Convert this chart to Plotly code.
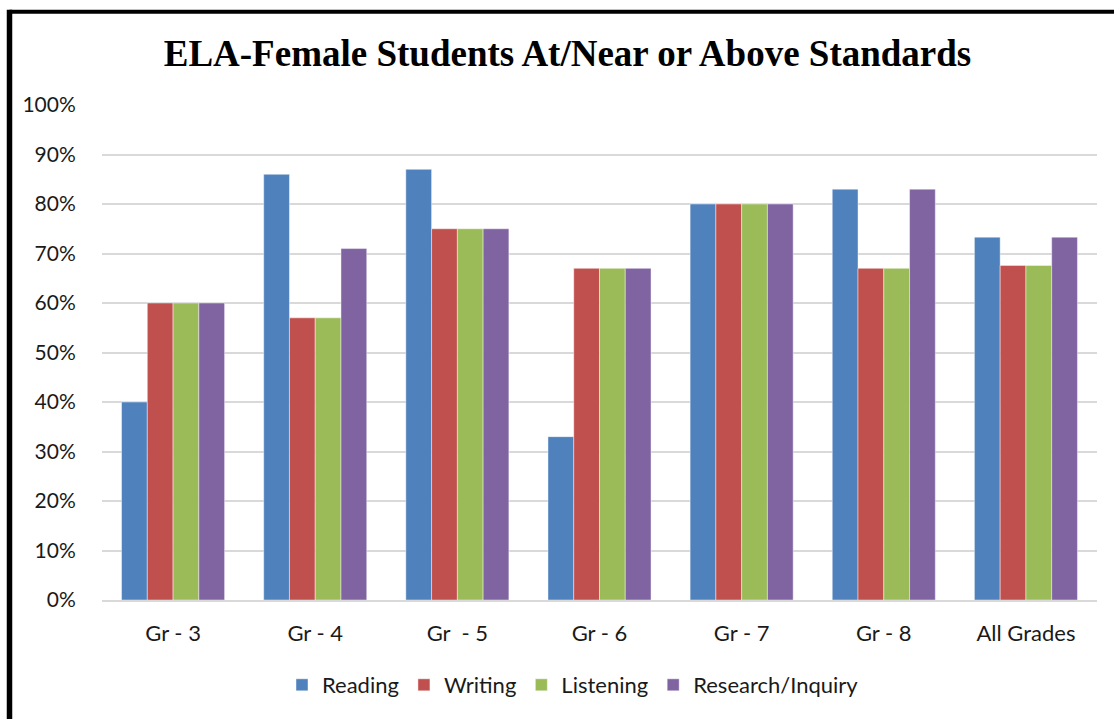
import plotly.graph_objects as go

categories = ["Gr - 3", "Gr - 4", "Gr \u00a0- 5", "Gr - 6", "Gr - 7", "Gr - 8", "All Grades"]
reading = [40, 86, 87, 33, 80, 83, 73.3]
writing = [60, 57, 75, 67, 80, 67, 67.6]
listening = [60, 57, 75, 67, 80, 67, 67.6]
research = [60, 71, 75, 67, 80, 83, 73.3]
series_names = ["Reading", "Writing", "Listening", "Research/Inquiry"]
series_colors = ["#4F81BD", "#C0504D", "#9BBB59", "#8064A2"]
y_ticks = [0, 10, 20, 30, 40, 50, 60, 70, 80, 90, 100]
y_labels = [f"{v}%" for v in y_ticks]

fig = go.Figure()
for name, vals, col in zip(series_names, [reading, writing, listening, research], series_colors):
    fig.add_trace(go.Bar(
        x=categories, y=vals, name=name,
        marker=dict(color=col, line=dict(color="rgba(255,255,255,0.55)", width=0.8)),
    ))

W, H = 1114, 719
L, R, T, B = 102, 17, 105, 119
pw, ph = W - L - R, H - T - B

def px(x):
    return (x - L) / pw

def py(y):
    return (H - B - y) / ph

fig.update_layout(
    width=W, height=H,
    margin=dict(l=L, r=R, t=T, b=B, autoexpand=False),
    paper_bgcolor="white", plot_bgcolor="white",
    barmode="group", bargap=0.275, bargroupgap=0,
    font=dict(family="Lato, Open Sans, sans-serif", size=20, color="#1a1a1a"),
    title=dict(
        text="<b>ELA-Female Students At/Near or Above Standards</b>",
        font=dict(family="Liberation Serif, Times New Roman, serif", size=37, color="black"),
        x=567.5 / W, xanchor="center", xref="container",
        y=1 - 53 / H, yanchor="middle", yref="container",
    ),
    xaxis=dict(
        showgrid=False, showline=True, linecolor="#d9d9d9", linewidth=1.5,
        ticks="outside", ticklen=13, tickcolor="rgba(0,0,0,0)",
        tickfont=dict(size=22), fixedrange=True,
    ),
    yaxis=dict(
        range=[0, 100], tickvals=y_ticks, ticktext=y_labels,
        showgrid=True, gridcolor="#d9d9d9", gridwidth=1.5,
        zeroline=False, showline=False,
        ticks="outside", ticklen=21, tickcolor="rgba(0,0,0,0)",
        tickfont=dict(size=21), fixedrange=True,
    ),
    legend=dict(
        orientation="h", x=px(573), xanchor="center", y=py(685), yanchor="middle",
        font=dict(size=22), itemwidth=30, traceorder="normal",
    ),
    showlegend=True,
)

# thick black frame (top and left edges visible in reference)
fig.add_shape(type="line", xref="paper", yref="paper",
              x0=px(9.5), x1=px(W + 5), y0=py(11.7), y1=py(11.7),
              line=dict(color="black", width=4))
fig.add_shape(type="line", xref="paper", yref="paper",
              x0=px(9.5), x1=px(9.5), y0=py(9.7), y1=py(H + 5),
              line=dict(color="black", width=5.5))

fig.write_html("out.html", config={"displayModeBar": False},
               post_script="document.body.style.margin='0';")
